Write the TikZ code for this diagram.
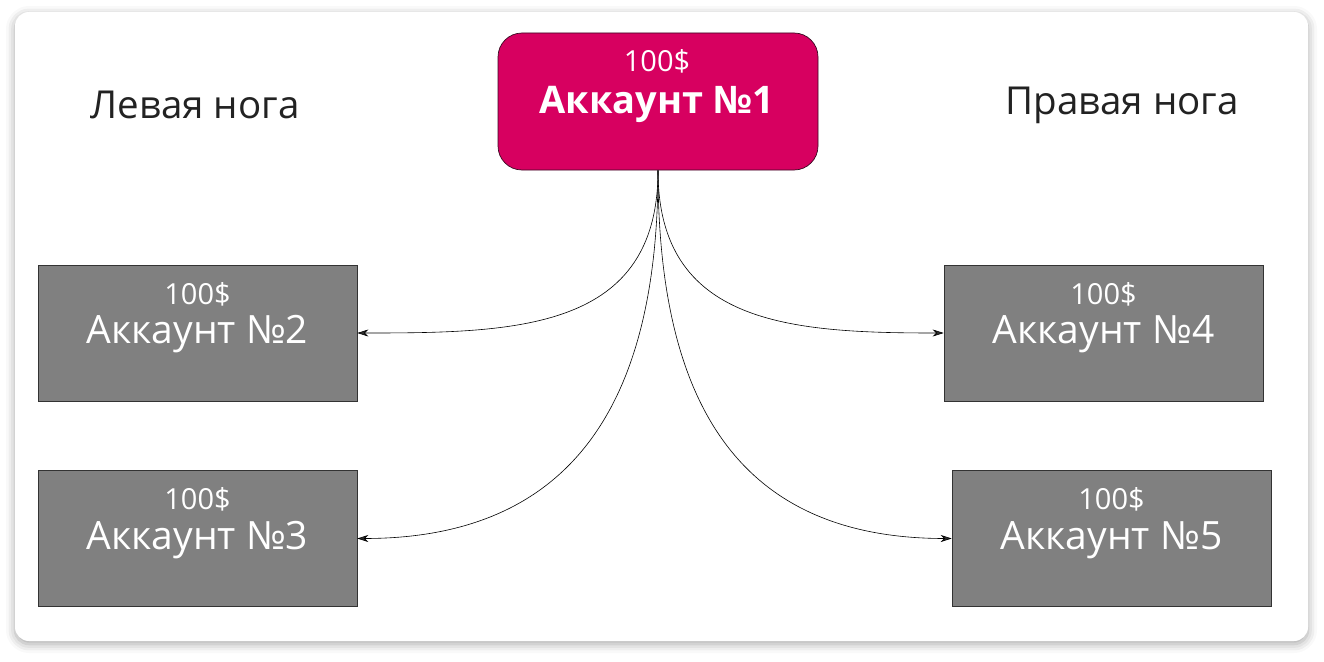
\documentclass[tikz,border=0pt]{standalone}
\usepackage{fontspec}
\setmainfont{Open Sans}
\usetikzlibrary{arrows.meta,shadows.blur}
\definecolor{accpink}{HTML}{D70060}
\definecolor{accedge}{HTML}{3A0A22}
\definecolor{leafgray}{HTML}{808080}
\definecolor{inkgray}{HTML}{222222}

\begin{document}
\begin{tikzpicture}[x=1pt,y=1pt,>={Stealth[length=11pt,width=7pt]},line width=0.7pt,
    main node/.style={draw=accedge,fill=accpink,rounded corners=24pt,minimum width=320pt,minimum height=137pt},
    leaf node/.style={draw=black!80,fill=leafgray,minimum width=319pt,minimum height=136pt},
    sum text/.style={text=white,font=\fontsize{29}{34}\selectfont},
    name text/.style={text=white,font=\fontsize{39}{46}\selectfont},
    leg text/.style={text=inkgray,font=\fontsize{38.5}{46}\selectfont},
    link/.style={->,line width=0.6pt,out=270,looseness=1.2}]

    \useasboundingbox (0,0) rectangle (1324,-661);

    % panel
    \fill[white,rounded corners=14pt,blur shadow={shadow xshift=0pt,shadow yshift=-3pt,shadow blur radius=9pt,shadow opacity=35}]
        (15,-12) rectangle (1308,-641);

    \node[main node] (acc1) at (658,-101.5) {};
    \node[sum text] (sum1) at (657,-61) {100\$};
    \node[name text,font=\fontsize{38}{46}\selectfont\bfseries] (name1) at (657,-104) {Аккаунт №1};

    \node[leg text] (left) at (195,-105) {Левая нога};
    \node[leg text] (right) at (1122,-105) {Правая нога};

    \node[leaf node] (acc2) at (197.5,-333) {};
    \node[sum text] (sum2) at (197.5,-294) {100\$};
    \node[name text] (name2) at (197.5,-334) {Аккаунт №2};

    \node[leaf node] (acc3) at (197.5,-538.5) {};
    \node[sum text] (sum3) at (197.5,-499) {100\$};
    \node[name text] (name3) at (197.5,-540) {Аккаунт №3};

    \node[leaf node] (acc4) at (1103.5,-333) {};
    \node[sum text] (sum4) at (1103.5,-294) {100\$};
    \node[name text] (name4) at (1103.5,-334) {Аккаунт №4};

    \node[leaf node] (acc5) at (1111.5,-538.5) {};
    \node[sum text] (sum5) at (1111.5,-499) {100\$};
    \node[name text] (name5) at (1111.5,-540) {Аккаунт №5};

    \draw[link] (acc1.south) to[in=0] (acc2.east);
    \draw[link] (acc1.south) to[in=0] (acc3.east);
    \draw[link] (acc1.south) to[in=180] (acc4.west);
    \draw[link] (acc1.south) to[in=180] (acc5.west);
\end{tikzpicture}
\end{document}
